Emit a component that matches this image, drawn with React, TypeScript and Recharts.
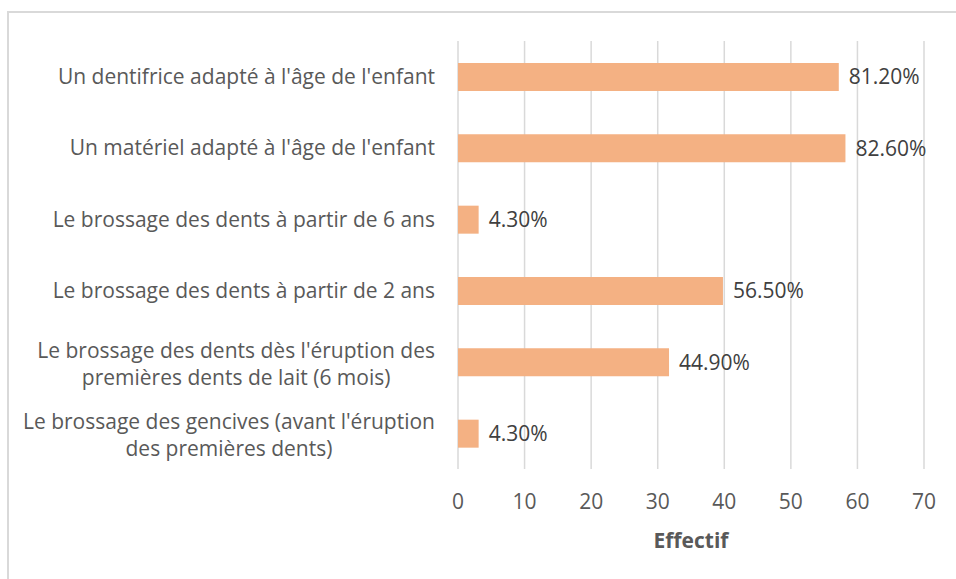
import React from 'react';
import { BarChart, Bar, XAxis, YAxis, CartesianGrid, LabelList, Label } from 'recharts';

const categories = [
  "Un dentifrice adapté à l'âge de l'enfant",
  "Un matériel adapté à l'âge de l'enfant",
  "Le brossage des dents à partir de 6 ans",
  "Le brossage des dents à partir de 2 ans",
  "Le brossage des dents dès l'éruption des\npremières dents de lait (6 mois)",
  "Le brossage des gencives (avant l'éruption\ndes premières dents)",
];
const effectif = [57.2, 58.2, 3.1, 39.8, 31.7, 3.1];
const percentLabels = ['81.20%', '82.60%', '4.30%', '56.50%', '44.90%', '4.30%'];
const xTicks = [0, 10, 20, 30, 40, 50, 60, 70];

const data = categories.map((c, i) => ({ name: c, value: effectif[i], label: percentLabels[i] }));

const FONT = '"Open Sans", sans-serif';
const FS = 21;
const TEXT = '#595959';

let ctx: CanvasRenderingContext2D | null = null;
function measure(s: string): number {
  if (!ctx) {
    const c = document.createElement('canvas');
    ctx = c.getContext('2d');
  }
  if (!ctx) return s.length * 10;
  ctx.font = `${FS}px ${FONT}`;
  return ctx.measureText(s).width;
}

const CatTick = (props: any) => {
  const { x, y, payload } = props;
  const lines: string[] = String(payload.value).split('\n');
  const right = x;
  if (lines.length === 1) {
    return (
      <text x={right} y={y} dy="0.35em" textAnchor="end" fill={TEXT} fontSize={FS} fontFamily={FONT}>
        {lines[0]}
      </text>
    );
  }
  const widths = lines.map(measure);
  const maxW = Math.max(...widths);
  const cx = right - maxW / 2;
  const lh = 27;
  const startY = y + 2 - ((lines.length - 1) * lh) / 2;
  return (
    <g>
      {lines.map((l, i) => (
        <text key={i} x={cx} y={startY + i * lh} dy="0.35em" textAnchor="middle" fill={TEXT} fontSize={FS} fontFamily={FONT}>
          {l}
        </text>
      ))}
    </g>
  );
};

export default function App() {
  return (
    <div style={{ position: 'absolute', left: 0, top: 0, width: 956, height: 579, background: '#fff' }}>
      <div
        style={{
          position: 'absolute',
          left: 7,
          top: 11,
          width: 949,
          height: 568,
          borderLeft: '2px solid #d9d9d9',
          borderTop: '2px solid #d9d9d9',
          boxSizing: 'border-box',
        }}
      />
      <div style={{ position: 'absolute', left: 0, top: 0 }}>
        <BarChart
          width={956}
          height={579}
          data={data}
          layout="vertical"
          margin={{ top: 41, right: 32, bottom: 50, left: 0 }}
          barCategoryGap="60%"
        >
          <CartesianGrid horizontal={false} vertical={true} stroke="#d9d9d9" strokeWidth={1.5} />
          <XAxis
            type="number"
            domain={[0, 70]}
            ticks={xTicks}
            interval={0}
            axisLine={false}
            tickLine={false}
            tickMargin={19}
            height={60}
            tick={{ fill: TEXT, fontSize: FS, fontFamily: FONT }}
          >
            <Label value="Effectif" position="bottom" offset={4} fill={TEXT} fontSize={21} fontWeight="bold" fontFamily={FONT} />
          </XAxis>
          <YAxis
            type="category"
            dataKey="name"
            width={458}
            axisLine={false}
            tickLine={false}
            tickMargin={17}
            tick={<CatTick />}
            interval={0}
          />
          <Bar dataKey="value" fill="#F4B183" barSize={28} isAnimationActive={false}>
            <LabelList dataKey="label" position="right" offset={10} fill="#404040" fontSize={FS} fontFamily={FONT} />
          </Bar>
        </BarChart>
      </div>
    </div>
  );
}
